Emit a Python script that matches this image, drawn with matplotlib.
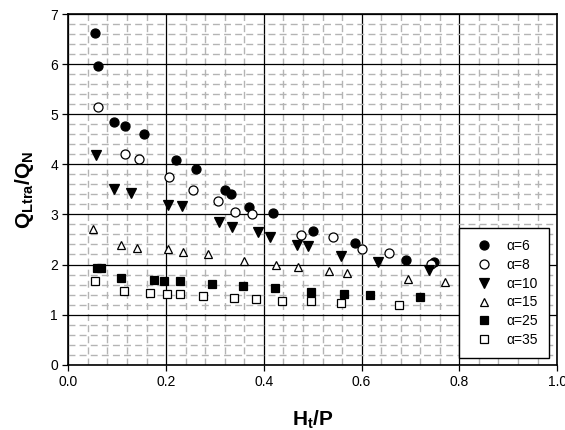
import numpy as np
import matplotlib
matplotlib.use("Agg")
import matplotlib.pyplot as plt
from matplotlib.ticker import MultipleLocator

plt.rcParams['font.family'] = ['Liberation Sans', 'DejaVu Sans']
plt.rcParams['mathtext.fontset'] = 'custom'
plt.rcParams['mathtext.rm'] = 'Liberation Sans'
plt.rcParams['mathtext.bf'] = 'Liberation Sans:bold'
plt.rcParams['mathtext.it'] = 'Liberation Sans:italic'

# data: Ht/P vs QLtra/QN for each alpha
x_a6 = [0.054, 0.061, 0.094, 0.116, 0.155, 0.220, 0.261, 0.320, 0.332, 0.369, 0.419, 0.500, 0.586, 0.691, 0.749]
y_a6 = [6.62, 5.97, 4.85, 4.77, 4.60, 4.08, 3.90, 3.48, 3.40, 3.15, 3.02, 2.66, 2.43, 2.10, 2.06]

x_a8 = [0.061, 0.116, 0.144, 0.206, 0.254, 0.307, 0.341, 0.375, 0.476, 0.542, 0.601, 0.657, 0.742]
y_a8 = [5.14, 4.20, 4.10, 3.75, 3.49, 3.26, 3.05, 3.00, 2.59, 2.54, 2.31, 2.22, 2.01]

x_a10 = [0.056, 0.094, 0.128, 0.203, 0.233, 0.309, 0.334, 0.389, 0.412, 0.467, 0.490, 0.558, 0.633, 0.738]
y_a10 = [4.18, 3.51, 3.42, 3.19, 3.16, 2.84, 2.74, 2.64, 2.54, 2.38, 2.37, 2.17, 2.06, 1.89]

x_a15 = [0.051, 0.108, 0.141, 0.203, 0.234, 0.286, 0.359, 0.425, 0.469, 0.533, 0.570, 0.694, 0.770]
y_a15 = [2.70, 2.39, 2.33, 2.31, 2.25, 2.21, 2.07, 2.00, 1.95, 1.87, 1.84, 1.71, 1.66]

x_a25 = [0.058, 0.066, 0.108, 0.175, 0.195, 0.229, 0.294, 0.357, 0.422, 0.497, 0.565, 0.617, 0.720]
y_a25 = [1.93, 1.93, 1.74, 1.69, 1.67, 1.67, 1.62, 1.57, 1.53, 1.46, 1.41, 1.39, 1.36]

x_a35 = [0.055, 0.113, 0.168, 0.201, 0.229, 0.275, 0.339, 0.383, 0.437, 0.497, 0.558, 0.677]
y_a35 = [1.67, 1.47, 1.44, 1.42, 1.41, 1.38, 1.34, 1.31, 1.28, 1.28, 1.23, 1.20]

series = [
    (x_a6, y_a6, 'o', 'black', 'α=6'),
    (x_a8, y_a8, 'o', 'white', 'α=8'),
    (x_a10, y_a10, 'v', 'black', 'α=10'),
    (x_a15, y_a15, '^', 'white', 'α=15'),
    (x_a25, y_a25, 's', 'black', 'α=25'),
    (x_a35, y_a35, 's', 'white', 'α=35'),
]

fig = plt.figure(figsize=(5.65, 4.3), dpi=100)
ax = fig.add_axes([0.121, 0.152, 0.865, 0.815])

for xs, ys, m, fc, lab in series:
    ms = 6.5 if m in ('o', 'v') else 5.5
    ax.plot(xs, ys, linestyle='none', marker=m, markersize=ms,
            markerfacecolor=fc, markeredgecolor='black', markeredgewidth=0.9,
            label=lab, zorder=3)

ax.set_xlim(0, 1.0)
ax.set_ylim(0, 7)
ax.xaxis.set_major_locator(MultipleLocator(0.2))
ax.xaxis.set_minor_locator(MultipleLocator(0.04))
ax.yaxis.set_major_locator(MultipleLocator(1))
ax.yaxis.set_minor_locator(MultipleLocator(0.2))
ax.xaxis.set_major_formatter(matplotlib.ticker.FormatStrFormatter('%.1f'))

ax.grid(which='major', color='black', linewidth=0.9, zorder=1)
ax.grid(which='minor', color='#b4b4b4', linewidth=1.0, linestyle=(0, (5, 3)), zorder=0)
ax.set_axisbelow(True)

ax.tick_params(which='major', direction='out', length=4, width=0.9, labelsize=10)
ax.tick_params(which='minor', length=0)
for sp in ax.spines.values():
    sp.set_linewidth(1.2)

ax.set_xlabel(r'$\mathbf{H_t/P}$', fontsize=15, labelpad=14)
ax.set_ylabel(r'$\mathbf{Q_{Ltra}/Q_N}$', fontsize=15, labelpad=10)

leg = ax.legend(loc='lower right', bbox_to_anchor=(0.984, 0.019), borderaxespad=0,
                fontsize=10, frameon=True, fancybox=False, edgecolor='black',
                framealpha=1, handlelength=2.0, handletextpad=0.65,
                borderpad=0.8, labelspacing=0.34)
leg.get_frame().set_linewidth(1.0)

fig.savefig('out.png', dpi=100)
